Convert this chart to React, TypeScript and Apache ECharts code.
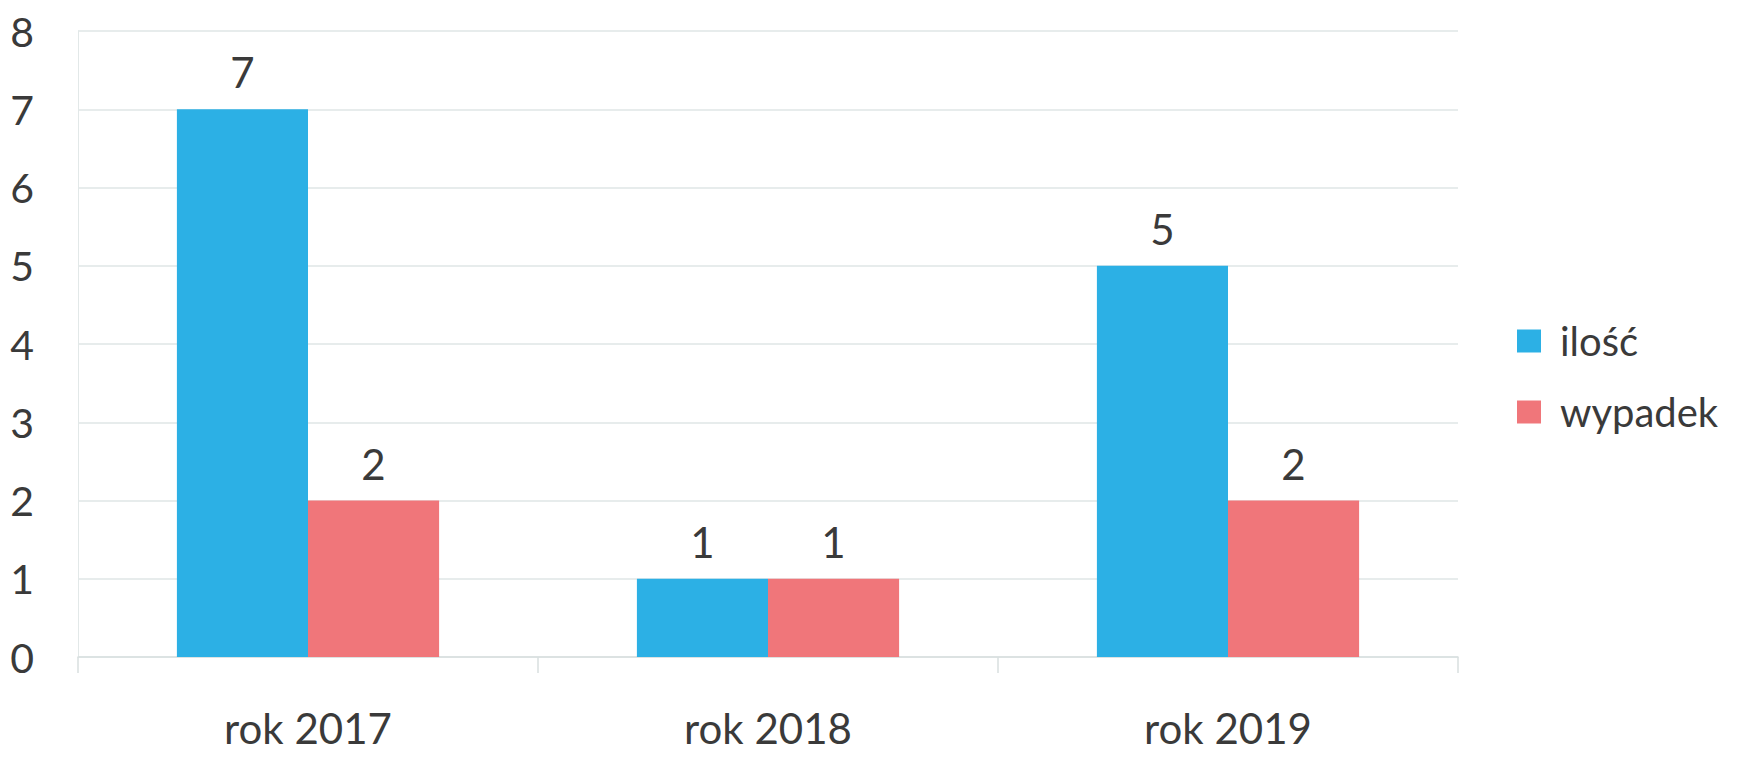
import React, { useEffect, useRef } from "react";
import * as echarts from "echarts";

const categories = ["rok 2017", "rok 2018", "rok 2019"];
const ilosc = [7, 1, 5];
const wypadek = [2, 1, 2];
const seriesNames = ["ilość", "wypadek"];
const yTicks = { min: 0, max: 8, interval: 1 };

const FONT = "Lato, 'Open Sans', sans-serif";
const TEXT = "#3a3a3a";

export default function App() {
  const ref = useRef<HTMLDivElement>(null);
  useEffect(() => {
    if (!ref.current) return;
    const chart = echarts.init(ref.current, undefined, { renderer: "svg" });
    const label = {
      show: true,
      position: "top" as const,
      distance: 16,
      fontSize: 42,
      fontFamily: FONT,
      color: TEXT,
    };
    chart.setOption({
      animation: false,
      backgroundColor: "#ffffff",
      grid: { left: 78, right: 284, top: 31, bottom: 100, containLabel: false },
      legend: {
        orient: "vertical",
        left: 1512,
        top: 316,
        icon: "rect",
        itemWidth: 24,
        itemHeight: 23,
        itemGap: 31,
        textStyle: {
          fontSize: 40,
          fontFamily: FONT,
          color: TEXT,
          padding: [0, 0, 0, 14],
        },
        data: seriesNames,
      },
      xAxis: {
        type: "category",
        data: categories,
        axisLine: { show: true, lineStyle: { color: "#d9dfdf", width: 1.5 } },
        axisTick: { show: true, length: 16, lineStyle: { color: "#d9dfdf", width: 1.5 } },
        axisLabel: {
          fontSize: 42,
          lineHeight: 42,
          fontFamily: FONT,
          color: TEXT,
          margin: 50,
        },
      },
      yAxis: {
        type: "value",
        min: yTicks.min,
        max: yTicks.max,
        interval: yTicks.interval,
        axisLine: { show: true, lineStyle: { color: "#e2e8e8", width: 1 } },
        axisTick: { show: false },
        splitLine: { show: true, lineStyle: { color: "#dfe6e6", width: 1.5 } },
        axisLabel: { fontSize: 41, fontFamily: FONT, color: TEXT, margin: 44 },
      },
      series: [
        {
          name: seriesNames[0],
          type: "bar",
          data: ilosc,
          barGap: "0%",
          barCategoryGap: "43%",
          itemStyle: { color: "#2cb0e5" },
          label,
        },
        {
          name: seriesNames[1],
          type: "bar",
          data: wypadek,
          barGap: "0%",
          barCategoryGap: "43%",
          itemStyle: { color: "#f0767a" },
          label,
        },
      ],
    });
    return () => chart.dispose();
  }, []);
  return (
    <div
      ref={ref}
      style={{ position: "absolute", left: 0, top: 0, width: 1742, height: 757 }}
    />
  );
}
